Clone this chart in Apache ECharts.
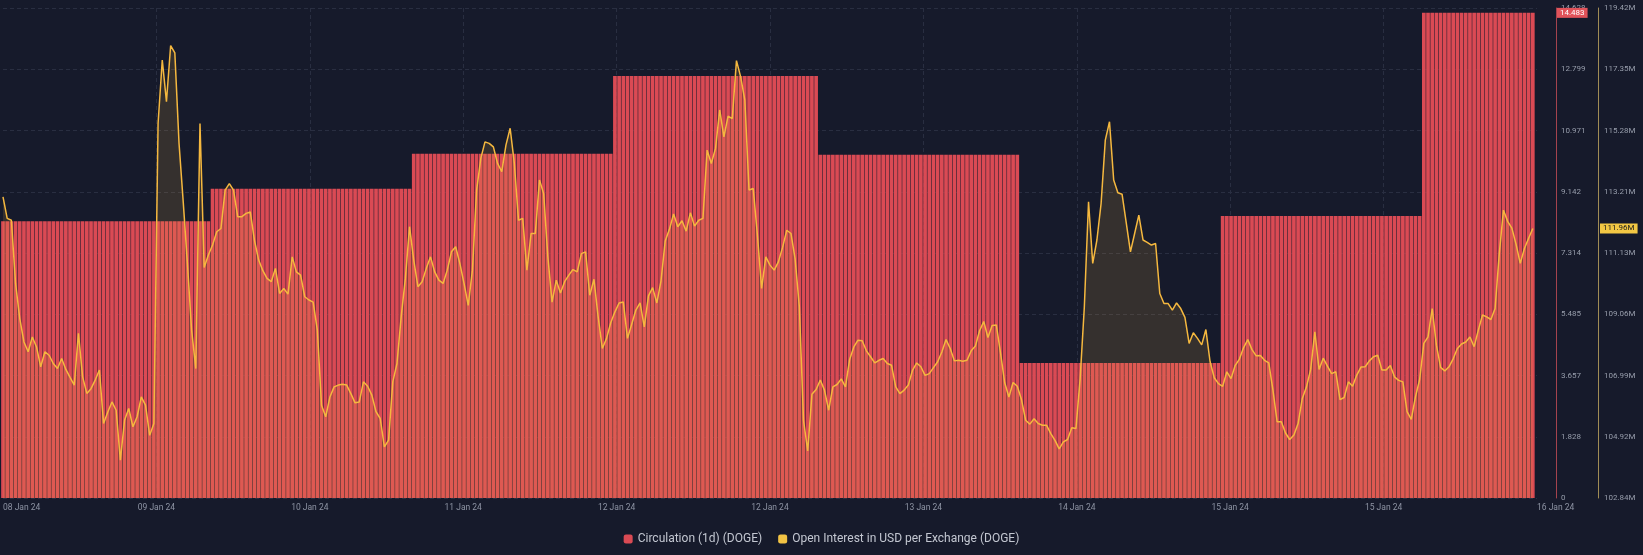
<!DOCTYPE html>
<html><head><meta charset="utf-8">
<script src="https://cdn.jsdelivr.net/npm/echarts@6/dist/echarts.min.js"></script>
<style>html,body{margin:0;padding:0;background:#161a2b;}#c{width:1643px;height:555px;}</style>
</head><body><div id="c"></div>
<script>
// ---- data ----
const xLabels = ['08 Jan 24','09 Jan 24','10 Jan 24','11 Jan 24','12 Jan 24','12 Jan 24','13 Jan 24','14 Jan 24','15 Jan 24','15 Jan 24','16 Jan 24'];
const circLabels = ['0','1.828','3.657','5.485','7.314','9.142','10.971','12.799','14.628'];
const oiLabels = ['102.84M','104.92M','106.99M','109.06M','111.13M','113.21M','115.28M','117.35M','119.42M'];
const circMin = 0, circMax = 14.628, circStep = 1.8285;
const oiMin = 102.84, oiMax = 119.42, oiStep = 2.0725;
const sampleMinutes = 30;          // one sample every 30 minutes, starting 08 Jan 24 ~23:00
const spanMinutes = 10980;         // visible time span
const labelStepMinutes = 1098;

// daily circulation and index of first 30-min sample of each day
const circulation = [8.26, 9.23, 10.28, 12.60, 10.25, 4.03, 8.42, 14.483];
const circulationStart = [0, 50, 98, 146, 195, 243, 291, 339];

// open interest in USD per exchange (millions), 30-minute samples
const openInterest = [
113.03,112.30,112.24,110.10,108.91,108.12,107.79,108.29,107.95,107.28,
107.79,107.67,107.39,107.22,107.56,107.19,106.92,106.66,108.41,106.94,
106.38,106.54,106.83,107.17,105.36,105.75,106.09,105.81,104.12,105.47,
105.87,105.25,105.59,106.26,105.98,104.96,105.36,115.51,117.66,116.25,
118.15,117.90,114.84,112.86,110.78,108.52,107.22,115.51,110.64,111.06,
111.40,111.85,111.96,113.26,113.48,113.26,112.36,112.36,112.47,112.52,
111.56,110.89,110.53,110.27,110.16,110.61,109.76,109.93,109.74,111.00,
110.49,110.38,109.65,109.54,109.47,108.52,105.98,105.59,106.26,106.60,
106.66,106.69,106.66,106.37,106.06,106.09,106.77,106.62,106.32,105.76,
105.53,104.57,104.80,106.77,107.39,108.97,110.27,112.02,110.89,109.99,
110.16,110.61,111.00,110.49,110.21,110.10,110.55,111.17,111.34,110.78,
110.10,109.36,110.55,113.26,114.33,114.89,114.84,114.72,114.16,113.88,
114.78,115.35,114.16,112.24,112.30,110.55,111.79,111.79,113.60,113.14,
111.00,109.47,110.21,109.78,110.16,110.38,110.57,110.49,111.11,111.17,
109.70,110.24,108.97,107.90,108.24,108.77,109.14,109.44,109.47,108.24,
108.72,109.20,109.44,108.63,109.68,109.96,109.44,110.19,111.54,111.93,
112.45,112.02,112.22,111.87,112.49,112.04,112.24,112.30,114.61,114.16,
114.67,115.97,115.06,115.76,115.68,117.64,117.09,116.30,113.26,113.31,
111.73,109.93,111.00,110.72,110.55,110.83,111.32,111.90,111.79,110.92,
109.31,105.47,104.43,106.35,106.51,106.83,106.49,105.81,106.60,106.68,
106.87,106.60,107.53,107.95,108.18,108.16,107.82,107.62,107.41,107.50,
107.56,107.39,107.33,106.60,106.37,106.49,106.66,107.16,107.41,107.28,
106.99,107.05,107.25,107.45,107.78,108.20,107.90,107.48,107.50,107.47,
107.50,107.82,107.98,108.50,108.81,108.27,108.68,108.69,107.75,106.74,
106.26,106.75,106.62,106.17,105.47,105.34,105.52,105.36,105.30,105.30,
105.02,104.79,104.50,104.74,104.82,105.22,105.19,106.88,109.31,112.86,
110.78,111.57,112.81,114.95,115.57,113.60,113.17,113.12,112.15,111.17,
111.79,112.41,111.57,111.49,111.40,111.45,109.76,109.42,109.42,109.20,
109.44,109.25,108.95,108.07,108.43,108.24,108.02,108.54,107.45,106.91,
106.71,106.62,107.11,106.88,107.33,107.54,107.93,108.20,107.86,107.65,
107.66,107.50,107.41,106.49,105.42,105.42,105.04,104.82,104.97,105.36,
106.21,106.60,107.19,108.46,107.19,107.57,107.30,107.05,107.11,106.17,
106.24,106.77,106.62,107.00,107.27,107.28,107.48,107.62,107.67,107.17,
107.17,107.32,106.94,106.82,106.77,105.76,105.50,106.26,106.85,108.07,
108.29,109.25,108.01,107.26,107.14,107.28,107.55,107.90,108.05,108.12,
108.29,107.96,108.52,109.03,108.97,108.88,109.25,111.11,112.58,112.20,
111.97,111.43,110.78,111.28,111.63,111.96
];

// ---- build series data ----
function circulationAt(i) {
  let d = 0;
  for (let j = 0; j < circulationStart.length; j++) if (i >= circulationStart[j]) d = j;
  return circulation[d];
}
const barData = openInterest.map((_, i) => [i * sampleMinutes, circulationAt(i)]);
const lineData = openInterest.map((v, i) => [i * sampleMinutes, v]);
const lastCirc = circulation[circulation.length - 1];
const lastOI = openInterest[openInterest.length - 1];

const gridLine = { color: '#292e41', type: [4, 3], width: 1 };
const font = 'Roboto, "Noto Sans", sans-serif';
const circAxisOffset = 19, oiAxisOffset = 61;

const chart = echarts.init(document.getElementById('c'));
chart.setOption({
  backgroundColor: '#161a2b',
  animation: false,
  grid: { left: 0, right: 106, top: 8, bottom: 57 },
  legend: {
    top: 528, left: 'center', icon: 'roundRect', itemWidth: 9, itemHeight: 9, itemGap: 16,
    textStyle: { color: '#c3c7d1', fontSize: 12, fontFamily: font },
    data: ['Circulation (1d) (DOGE)', 'Open Interest in USD per Exchange (DOGE)']
  },
  xAxis: {
    type: 'value', min: 0, max: spanMinutes, interval: labelStepMinutes,
    axisLine: { show: false, onZero: false }, axisTick: { show: false },
    splitLine: { show: true, showMinLine: false, showMaxLine: false, lineStyle: gridLine },
    axisLabel: {
      color: '#8d93a3', fontSize: 8.5, fontFamily: font, margin: 5,
      alignMinLabel: 'left', alignMaxLabel: 'left',
      formatter: v => xLabels[Math.round(v / labelStepMinutes)]
    }
  },
  yAxis: [
    {
      type: 'value', position: 'right', offset: circAxisOffset, min: circMin, max: circMax, interval: circStep,
      axisLine: { show: true, onZero: false, lineStyle: { color: '#a5434e', width: 1 } },
      axisTick: { show: false },
      splitLine: { show: true, lineStyle: gridLine },
      axisLabel: { color: '#979dab', fontSize: 8, fontFamily: font, margin: 5,
        formatter: v => circLabels[Math.round((v - circMin) / circStep)] }
    },
    {
      type: 'value', position: 'right', offset: oiAxisOffset, min: oiMin, max: oiMax, interval: oiStep,
      axisLine: { show: true, onZero: false, lineStyle: { color: '#a08c55', width: 1 } },
      axisTick: { show: false },
      splitLine: { show: false },
      axisLabel: { color: '#979dab', fontSize: 8, fontFamily: font, margin: 6,
        formatter: v => oiLabels[Math.round((v - oiMin) / oiStep)] }
    }
  ],
  series: [
    {
      name: 'Circulation (1d) (DOGE)', type: 'bar', yAxisIndex: 0, data: barData,
      barCategoryGap: '12%', itemStyle: { color: '#da4a54' }
    },
    {
      name: 'Open Interest in USD per Exchange (DOGE)', type: 'line', yAxisIndex: 1, data: lineData,
      symbol: 'none', showSymbol: false,
      lineStyle: { color: '#f5b83f', width: 1.5 },
      itemStyle: { color: '#f2c344' },
      areaStyle: { color: 'rgba(250,185,70,0.2)', origin: 'start' }
    }
  ]
});

// last-value badges on the two value axes, placed through the chart's own scales
const gridRect = chart.getModel().getComponent('grid').coordinateSystem.getRect();
const axisRight = gridRect.x + gridRect.width;
const yCirc = chart.convertToPixel({ yAxisIndex: 0 }, lastCirc);
const yOI = chart.convertToPixel({ yAxisIndex: 1 }, lastOI);
chart.setOption({
  graphic: [
    { type: 'text', z: 100, x: axisRight + circAxisOffset + 1, y: yCirc,
      style: { text: lastCirc.toFixed(3), fill: '#ffffff', backgroundColor: '#e1535a', padding: [1, 3, 1, 3],
        fontSize: 8, fontFamily: font, verticalAlign: 'middle', align: 'left' } },
    { type: 'text', z: 100, x: axisRight + oiAxisOffset + 2, y: yOI,
      style: { text: lastOI.toFixed(2) + 'M', fill: '#1b1b1b', backgroundColor: '#f2c744', padding: [1, 3, 1, 3],
        fontSize: 8, fontFamily: font, verticalAlign: 'middle', align: 'left' } }
  ]
});
</script>
</body></html>
